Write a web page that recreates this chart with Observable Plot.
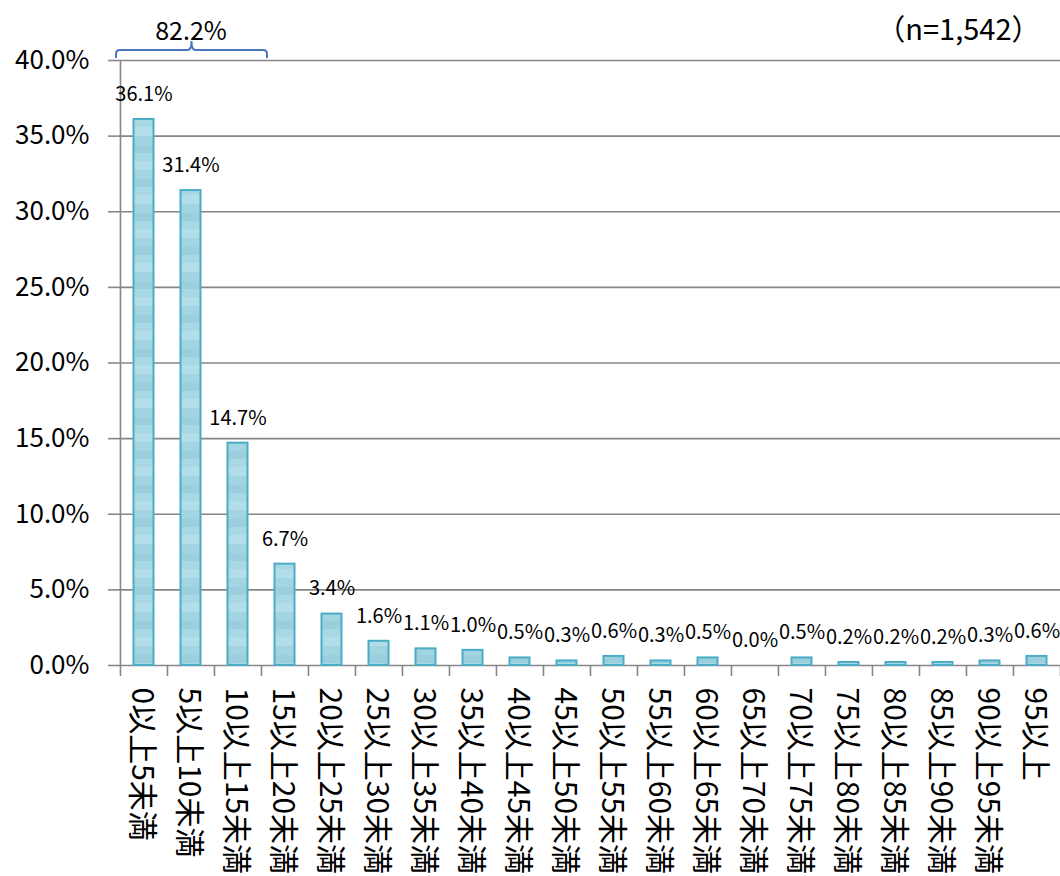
<!DOCTYPE html>
<html>
<head>
<meta charset="utf-8">
<script src="https://cdn.jsdelivr.net/npm/d3@7"></script>
<script src="https://cdn.jsdelivr.net/npm/@observablehq/plot@0.6"></script>
<style>
  html, body { margin: 0; padding: 0; background: #fff; }
  #chart svg { display: block; }
</style>
</head>
<body>
<div id="chart"></div>
<script>
const categories = [
  "0以上5未満", "5以上10未満", "10以上15未満", "15以上20未満", "20以上25未満",
  "25以上30未満", "30以上35未満", "35以上40未満", "40以上45未満", "45以上50未満",
  "50以上55未満", "55以上60未満", "60以上65未満", "65以上70未満", "70以上75未満",
  "75以上80未満", "80以上85未満", "85以上90未満", "90以上95未満", "95以上"
];
const shares = [36.1, 31.4, 14.7, 6.7, 3.4, 1.6, 1.1, 1.0, 0.5, 0.3, 0.6, 0.3, 0.5, 0.0, 0.5, 0.2, 0.2, 0.2, 0.3, 0.6];
const yTicks = [0, 5, 10, 15, 20, 25, 30, 35, 40];
const bracketCategories = ["0以上5未満", "5以上10未満", "10以上15未満"];
const bracketLabel = "82.2%";
const sampleLabel = "（n=1,542）";

const data = categories.map((c, i) => ({cat: c, val: shares[i]}));
const FONT = "'Noto Sans CJK JP', 'Noto Sans', sans-serif";
const GRID = "#868686";

function bracketMark(index, scales, values, dimensions) {
  const x = scales.x, y = scales.y;
  const bw = x.bandwidth ? x.bandwidth() : 0;
  let s0 = x(bracketCategories[0]);
  let s1 = x(bracketCategories[bracketCategories.length - 1]);
  if (Math.abs(s0 - dimensions.marginLeft) > 2) { s0 -= bw / 2; s1 -= bw / 2; }
  const left = s0 - 4, right = s1 + bw + 6;
  const mid = (left + right) / 2;
  const top = y(40);
  const yb = top - 2, yh = top - 10, yp = top - 19;
  const r = 4;
  const d = `M${left},${yb} L${left},${yh + r} Q${left},${yh} ${left + r},${yh} L${mid - r},${yh} Q${mid},${yh} ${mid},${yp}` +
            ` Q${mid},${yh} ${mid + r},${yh} L${right - r},${yh} Q${right},${yh} ${right},${yh + r} L${right},${yb}`;
  return d3.create("svg:path")
    .attr("d", d)
    .attr("fill", "none")
    .attr("stroke", "#4677c0")
    .attr("stroke-width", 2)
    .node();
}

const step = (1060 - 119) / categories.length;

const chart = Plot.plot({
  width: 1060,
  height: 876,
  marginLeft: 119,
  marginRight: 0,
  marginTop: 60,
  marginBottom: 211,
  style: {fontFamily: FONT, background: "white", color: "black"},
  x: {domain: categories, padding: 0, axis: null},
  y: {domain: [0, 40], axis: null},
  marks: [
    Plot.ruleY(yTicks, {stroke: GRID, strokeWidth: 1.6}),
    Plot.axisY({ticks: yTicks, tickSize: 11, tickPadding: 19, stroke: GRID, strokeWidth: 1.6, fill: "black",
      tickFormat: d => d.toFixed(1) + "%", fontSize: 26, label: null}),
    Plot.ruleX([categories[0]], {dx: -step / 2, y1: 0, y2: 40, stroke: GRID, strokeWidth: 1.6}),
    Plot.ruleX(categories, {x: d => d, dx: -step / 2, y1: 0, y2: 0, insetTop: 0, insetBottom: -11, stroke: GRID, strokeWidth: 1.6}),
    Plot.ruleX([categories[categories.length - 1]], {x: d => d, dx: step / 2, y1: 0, y2: 0, insetTop: 0, insetBottom: -11, stroke: GRID, strokeWidth: 1.6}),
    Plot.barY(data, {x: "cat", y: "val", fill: "url(#barStripes)", stroke: "#4bacc6", strokeWidth: 2, insetLeft: 13.5, insetRight: 13.5}),
    Plot.text(data, {x: "cat", y: "val", text: d => d.val.toFixed(1) + "%", dy: -25, fontSize: 20, fill: "black"}),
    Plot.text(categories, {x: d => d, frameAnchor: "bottom", lineAnchor: "middle", rotate: 90, textAnchor: "start", dy: 22, dx: -2, fontSize: 30, fill: "black"}),
    bracketMark,
    Plot.text([bracketLabel], {x: () => bracketCategories[1], frameAnchor: "top", lineAnchor: "middle", dy: -29, fontSize: 25, fill: "black"}),
    Plot.text([sampleLabel], {frameAnchor: "top-right", lineAnchor: "middle", dy: -30, dx: -20, textAnchor: "end", fontSize: 29, fill: "black"})
  ]
});

const defs = d3.select(chart).insert("defs", ":first-child");
const pat = defs.append("pattern")
  .attr("id", "barStripes")
  .attr("patternUnits", "userSpaceOnUse")
  .attr("width", 10).attr("height", 34);
[["#a3d4e1", 0, 9], ["#9ccfdd", 9, 8], ["#a8d8e4", 17, 8], ["#b3dde8", 25, 9]].forEach(([c, y, h]) => {
  pat.append("rect").attr("x", 0).attr("y", y).attr("width", 10).attr("height", h).attr("fill", c);
});

document.getElementById("chart").appendChild(chart);
</script>
</body>
</html>
